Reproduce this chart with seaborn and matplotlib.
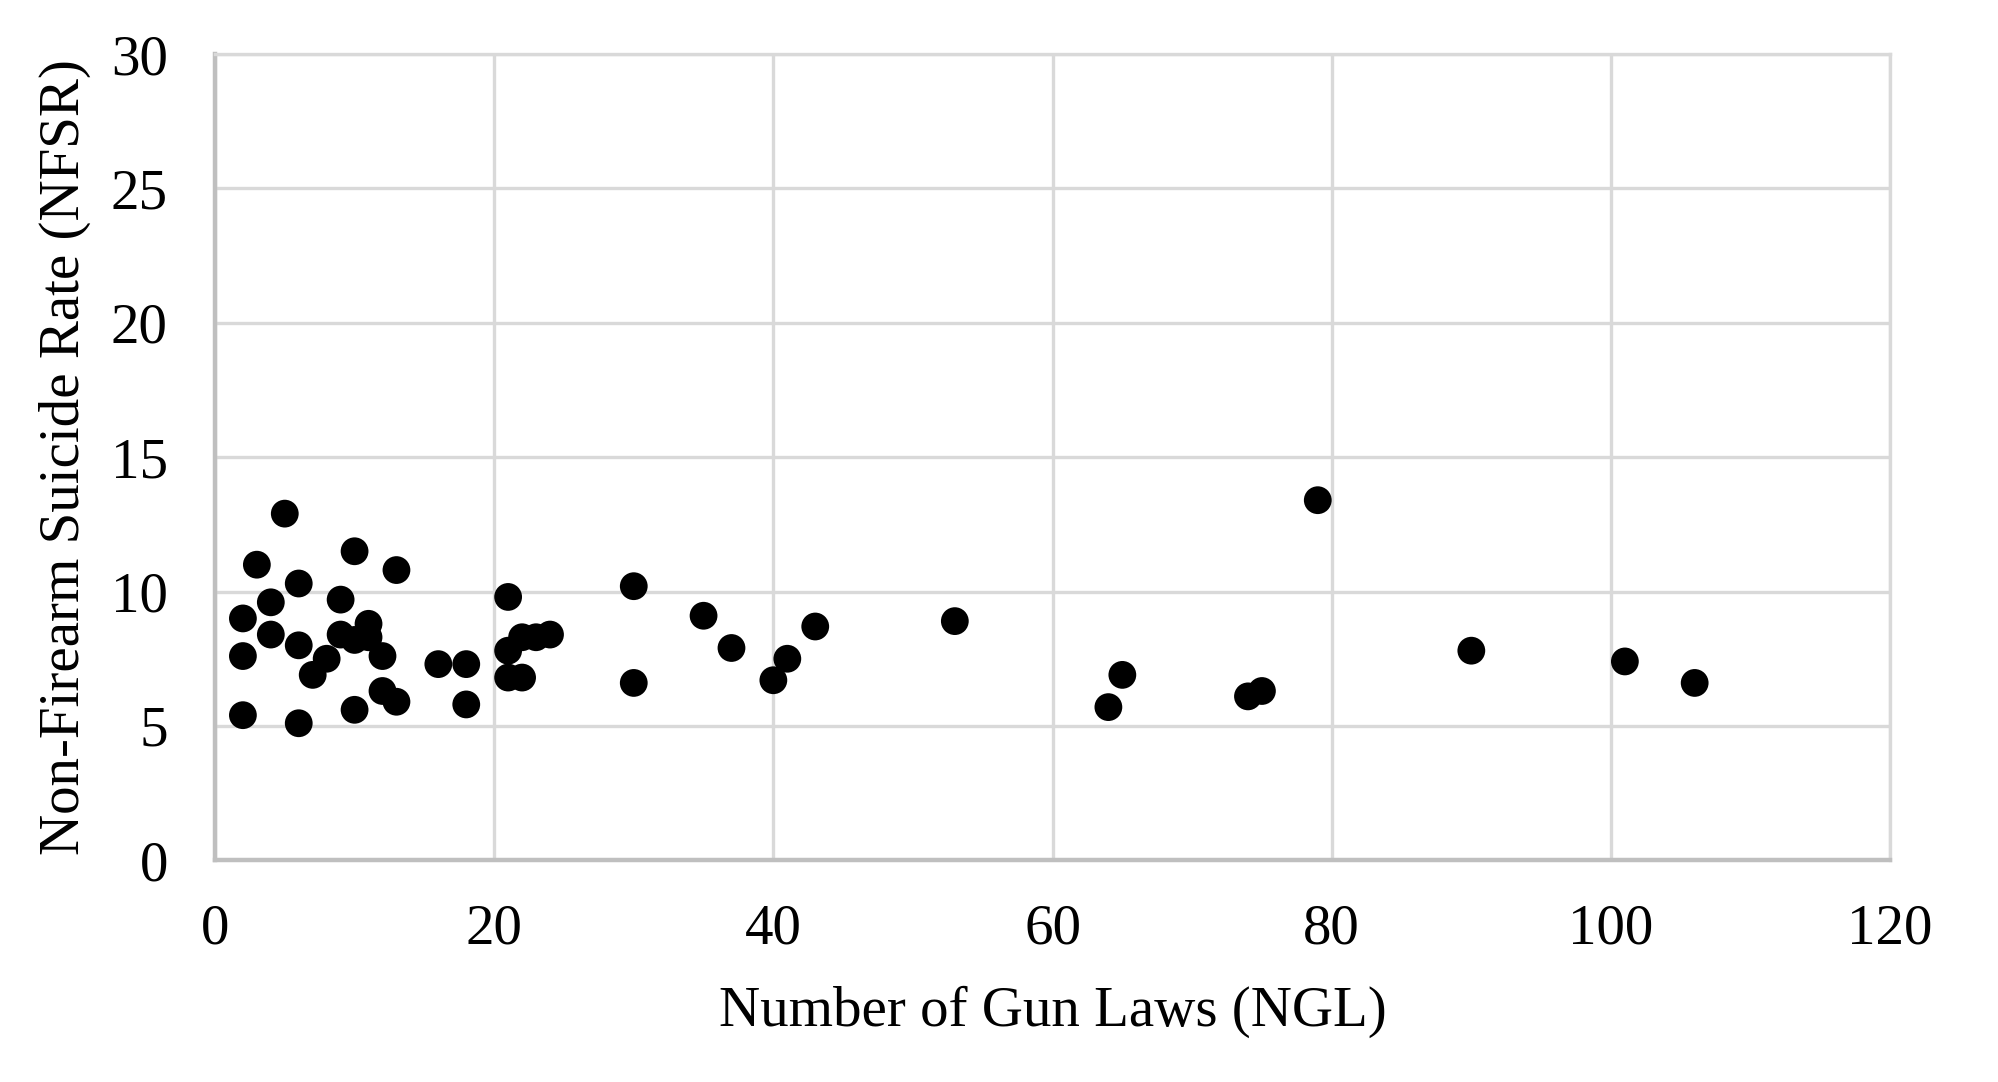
import matplotlib
matplotlib.use("Agg")
import matplotlib.pyplot as plt
import seaborn as sns
import pandas as pd

# Number of gun laws per state (x) vs non-firearm suicide rate (y)
ngl = [5, 3, 10, 13, 6, 4, 9, 21, 2, 4, 9, 11, 10, 11, 6, 2, 8, 12, 7, 16,
       18, 21, 22, 23, 24, 21, 22, 12, 13, 18, 10, 2, 6,
       30, 30, 35, 37, 43, 41, 40, 53,
       79, 65, 64, 74, 75, 90, 101, 106]
nfsr = [12.9, 11.0, 11.5, 10.8, 10.3, 9.6, 9.7, 9.8, 9.0, 8.4, 8.4, 8.8, 8.2, 8.3, 8.0, 7.6, 7.5, 7.6, 6.9, 7.3,
        7.3, 7.8, 8.3, 8.3, 8.4, 6.8, 6.8, 6.3, 5.9, 5.8, 5.6, 5.4, 5.1,
        10.2, 6.6, 9.1, 7.9, 8.7, 7.5, 6.7, 8.9,
        13.4, 6.9, 5.7, 6.1, 6.3, 7.8, 7.4, 6.6]

x_ticks = [0, 20, 40, 60, 80, 100, 120]
y_ticks = [0, 5, 10, 15, 20, 25, 30]

df = pd.DataFrame({"NGL": ngl, "NFSR": nfsr})

sns.set_style("white")
plt.rcParams['font.family'] = ['Liberation Serif', 'DejaVu Serif']
plt.rcParams['text.color'] = 'black'
plt.rcParams['axes.labelcolor'] = 'black'
plt.rcParams['xtick.color'] = 'black'
plt.rcParams['ytick.color'] = 'black'

fig = plt.figure(figsize=(19.98, 10.82), dpi=100)
ax = fig.add_axes([0.1076, 0.2049, 0.8384, 0.7451])

sns.scatterplot(data=df, x="NGL", y="NFSR", ax=ax, color="black",
                s=400, edgecolor="none", zorder=3, clip_on=False)

ax.set_xlim(0, 120)
ax.set_ylim(0, 30)
ax.set_xticks(x_ticks)
ax.set_yticks(y_ticks)
ax.set_xticklabels([str(t) for t in x_ticks])
ax.set_yticklabels([str(t) for t in y_ticks])

# light grey gridlines, Excel style
ax.set_axisbelow(True)
ax.grid(True, color="#d9d9d9", linewidth=2.4)

for side in ["top", "right"]:
    ax.spines[side].set_color("#d9d9d9")
    ax.spines[side].set_linewidth(2.4)
for side in ["left", "bottom"]:
    ax.spines[side].set_color("#bfbfbf")
    ax.spines[side].set_linewidth(3.2)

ax.tick_params(axis="x", length=0, pad=31, labelsize=41)
ax.tick_params(axis="y", length=0, pad=34, labelsize=41)

ax.set_xlabel("Number of Gun Laws (NGL)", fontsize=41, labelpad=22)
ax.set_ylabel("Non-Firearm Suicide Rate (NFSR)", fontsize=41, labelpad=14)

fig.savefig("out.png", dpi=100, facecolor="white")
